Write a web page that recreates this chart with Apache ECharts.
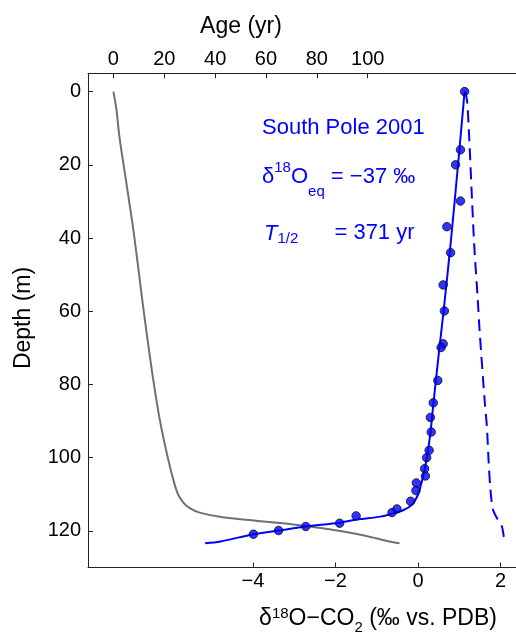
<!DOCTYPE html>
<html><head><meta charset="utf-8">
<script src="https://cdn.jsdelivr.net/npm/echarts@6/dist/echarts.min.js"></script>
<style>html,body{margin:0;padding:0;background:#fff}#c{width:516px;height:635px}</style>
</head><body><div id="c"></div>
<script>
// Tick labels
const depthTicks = [0, 20, 40, 60, 80, 100, 120];
const ageTicks = [0, 20, 40, 60, 80, 100];
const deltaTicks = [-4, -2, 0, 2];

// Measured firn-air samples: δ18O-CO2 (‰) vs depth (m)
const sampleDelta = [1.13, 1.03, 0.91, 1.03, 0.70, 0.79, 0.61, 0.64, 0.61, 0.56, 0.48, 0.37, 0.30, 0.32, 0.27, 0.21, 0.16, 0.18, -0.04, -0.05, -0.18, -0.51, -0.63, -1.50, -1.90, -2.72, -3.38, -3.99];
const sampleDepth = [0.0, 15.9, 20.0, 29.9, 36.9, 44.0, 52.8, 59.9, 68.9, 69.9, 78.9, 85.0, 89.0, 93.0, 98.0, 100.0, 103.0, 105.0, 106.9, 109.0, 111.9, 114.0, 115.0, 115.9, 117.9, 118.8, 119.9, 120.9];

// Model fit (solid blue)
const fitDelta = [1.13, 0.97, 0.80, 0.62, 0.50, 0.38, 0.30, 0.22, 0.14, 0.06, -0.02, -0.15, -0.35, -0.63, -0.91, -1.48, -1.90, -2.72, -3.38, -3.99, -4.79, -5.16];
const fitDepth = [0.0, 20.0, 40.5, 60.0, 72.0, 84.5, 93.3, 99.7, 104.3, 107.9, 110.6, 112.9, 114.3, 115.3, 116.1, 116.9, 117.8, 118.8, 119.9, 120.9, 122.9, 123.4];

// Equilibrium curve (dashed blue)
const eqDelta = [1.15, 1.20, 1.36, 1.45, 1.49, 1.62, 1.67, 1.71, 1.75, 1.79, 1.83, 1.92, 2.03, 2.08, 2.12];
const eqDepth = [0.0, 3.6, 41.4, 57.0, 64.7, 85.0, 91.5, 100.6, 107.9, 112.4, 114.6, 116.6, 118.6, 121.5, 123.4];

// Gas age (grey, top axis): age (yr) vs depth (m)
const ageYears = [0, 1.2, 2.35, 4.9, 8.2, 11.5, 14.7, 18.0, 21.9, 25.2, 27.5, 30.0, 33.9, 43.0, 56.1, 69.2, 82.3, 95.3, 103.2, 108.4, 112.5];
const ageDepth = [0, 5.0, 12.3, 24.1, 39.6, 57.8, 74.2, 88.8, 101.5, 109.7, 112.3, 113.8, 115.0, 116.3, 117.2, 118.1, 119.3, 120.8, 122.0, 122.9, 123.4];

const FONT = 'Liberation Sans, Arial, Helvetica, sans-serif';
const BLUE = '#0000ff';
const zip = (a, b) => a.map((v, i) => [v, b[i]]);
const minusFmt = v => String(v).replace('-', '\u2212');

const chart = echarts.init(document.getElementById('c'), null, {renderer: 'canvas'});
const axisCommon = {
  type: 'value',
  axisLine: {show: true, onZero: false, lineStyle: {color: '#222', width: 1}},
  splitLine: {show: false},
  axisLabel: {color: '#000', fontSize: 20, fontFamily: FONT},
};
chart.setOption({
  animation: false,
  backgroundColor: '#fff',
  grid: {left: 88, top: 73.3, width: 445.5, height: 494.2, outerBoundsMode: 'none', containLabel: false},
  xAxis: [
    Object.assign({}, axisCommon, {
      position: 'bottom', min: -8, max: 2.8,
      axisTick: {show: true, inside: true, length: 5, lineStyle: {color: '#222'}, customValues: deltaTicks},
      axisLabel: Object.assign({}, axisCommon.axisLabel, {customValues: deltaTicks, margin: 4, formatter: minusFmt})
    }),
    Object.assign({}, axisCommon, {
      position: 'top', min: -10, max: 165.2,
      axisTick: {show: true, inside: true, length: 5, lineStyle: {color: '#222'}, customValues: ageTicks},
      axisLabel: Object.assign({}, axisCommon.axisLabel, {customValues: ageTicks, margin: 4})
    })
  ],
  yAxis: [Object.assign({}, axisCommon, {
    position: 'left', inverse: true, min: -5, max: 130,
    axisTick: {show: true, inside: true, length: 5, lineStyle: {color: '#222'}, customValues: depthTicks},
    axisLabel: Object.assign({}, axisCommon.axisLabel, {customValues: depthTicks, margin: 7})
  })],
  series: [
    {type: 'line', xAxisIndex: 1, data: zip(ageYears, ageDepth), showSymbol: false, smooth: 0.3,
      lineStyle: {color: '#707070', width: 2}, z: 2},
    {type: 'line', xAxisIndex: 0, data: zip(eqDelta, eqDepth), showSymbol: false, smooth: 0.3,
      lineStyle: {color: BLUE, width: 2, type: [12, 7]}, z: 3},
    {type: 'line', xAxisIndex: 0, data: zip(fitDelta, fitDepth), showSymbol: false, smooth: 0.3,
      lineStyle: {color: BLUE, width: 2}, z: 4},
    {type: 'scatter', xAxisIndex: 0, data: zip(sampleDelta, sampleDepth), symbolSize: 8.5,
      itemStyle: {color: BLUE, borderColor: '#111', borderWidth: 1}, z: 5}
  ],
  graphic: [
    {type: 'text', x: 241, y: 27, style: {text: 'Age (yr)', font: '23px ' + FONT, fill: '#000', align: 'center', verticalAlign: 'middle'}},
    {type: 'text', x: 24, y: 318, rotation: Math.PI / 2, style: {text: 'Depth (m)', font: '23px ' + FONT, fill: '#000', align: 'center', verticalAlign: 'middle'}},
    {type: 'text', x: 378, y: 619, style: {
      text: '{m|δ}{sup|18}{m|O\u2212CO}{sub|2}{m| (‰ vs. PDB)}', align: 'center', verticalAlign: 'middle', fill: '#000',
      rich: {
        m: {fontSize: 23, fontFamily: FONT, lineHeight: 26, fill: '#000'},
        sup: {fontSize: 15, fontFamily: FONT, lineHeight: 15, padding: [0, 0, 10, 0], fill: '#000'},
        sub: {fontSize: 15, fontFamily: FONT, lineHeight: 15, padding: [18, 0, 0, 0], fill: '#000'}
      }}},
    {type: 'text', x: 262, y: 128.4, style: {text: 'South Pole 2001', font: '22px ' + FONT, fill: BLUE, align: 'left', verticalAlign: 'middle'}},
    {type: 'text', x: 262, y: 177.4, style: {
      text: '{m|δ}{sup|18}{m|O}{sub|eq}{m| = \u221237 ‰}', align: 'left', verticalAlign: 'middle', fill: BLUE,
      rich: {
        m: {fontSize: 22, fontFamily: FONT, lineHeight: 26, fill: BLUE},
        sup: {fontSize: 15, fontFamily: FONT, lineHeight: 15, padding: [0, 0, 20, 0], fill: BLUE},
        sub: {fontSize: 15, fontFamily: FONT, lineHeight: 15, padding: [28, 0, 0, 0], fill: BLUE}
      }}},
    {type: 'text', x: 264, y: 233.4, style: {
      text: '{it|T}{sub|1/2}{m|= 371 yr}', align: 'left', verticalAlign: 'middle', fill: BLUE,
      rich: {
        it: {fontSize: 22, fontFamily: FONT, fontStyle: 'italic', lineHeight: 26, fill: BLUE},
        m: {fontSize: 22, fontFamily: FONT, lineHeight: 26, fill: BLUE},
        sub: {fontSize: 15, fontFamily: FONT, lineHeight: 15, width: 57, padding: [11, 0, 0, 0], fill: BLUE}
      }}}
  ]
});
</script>
</body></html>
